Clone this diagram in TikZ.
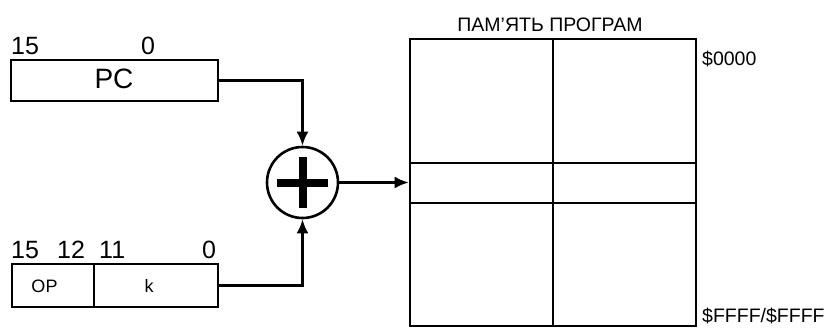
\documentclass[tikz,border=0pt]{standalone}
\usepackage{fontspec}
\setmainfont{Liberation Sans}
\usetikzlibrary{arrows.meta}
\begin{document}
\begin{tikzpicture}[x=1pt,y=-1pt,
  box/.style={draw,line width=2.6pt,rectangle,inner sep=0pt,fill=white},
  conn/.style={line width=2.6pt,-{Latex[length=14pt,width=12pt]}},
  numlbl/.style={font=\fontsize{25}{28}\selectfont,inner sep=0pt},
  smalllbl/.style={font=\fontsize{18}{21}\selectfont,inner sep=0pt},
  memlbl/.style={font=\fontsize{19.5}{22}\selectfont,inner sep=0pt}]
\useasboundingbox (0,0) rectangle (830,327);
% PC register
\node[box,minimum width=207pt,minimum height=41pt] (pc) at (114.5,80.5) {};
\node[font=\fontsize{28}{31}\selectfont,inner sep=0pt,anchor=base] (pclbl) at (114,88) {PC};
\node[numlbl,anchor=base west] (pc15) at (11,54) {15};
\node[numlbl,anchor=base] (pc0) at (148,54) {0};
% instruction register
\node[box,minimum width=82pt,minimum height=43pt] (op) at (53,285.5) {};
\node[box,minimum width=124pt,minimum height=43pt] (k) at (156,285.5) {};
\node[smalllbl,anchor=base] (oplbl) at (44.5,292) {OP};
\node[smalllbl,anchor=base] (klbl) at (149,292) {k};
\node[numlbl,anchor=base west] (n15) at (11,258) {15};
\node[numlbl,anchor=base west] (n12) at (57,258) {12};
\node[numlbl,anchor=base west] (n11) at (99,258) {11};
\node[numlbl,anchor=base] (n0) at (209,258) {0};
% adder
\node[draw,circle,line width=2.6pt,minimum size=71pt,inner sep=0pt] (add) at (302.5,182.5) {};
\draw[line width=8pt] (277,182.5) -- (328,182.5);
\draw[line width=8pt] (302.5,157) -- (302.5,208);
% memory
\node[box,minimum width=286pt,minimum height=287pt] (mem) at (553,182.5) {};
\draw[line width=2.8pt] (mem.north) -- (mem.south);
\draw[line width=2.8pt] (410,163) -- (696,163);
\draw[line width=2.8pt] (410,203) -- (696,203);
\node[memlbl,anchor=base] (title) at (550,31) {ПАМ’ЯТЬ ПРОГРАМ};
\node[memlbl,anchor=base west] (a0) at (702,65) {\$0000};
\node[memlbl,anchor=base west] (a1) at (702,322) {\$FFFF/\$FFFF};
% connectors
\draw[conn] (pc.east) -| (add.north);
\draw[conn] (k.east) -| (add.south);
\draw[conn] (add.east) -- (add.east -| mem.west);
\end{tikzpicture}
\end{document}
